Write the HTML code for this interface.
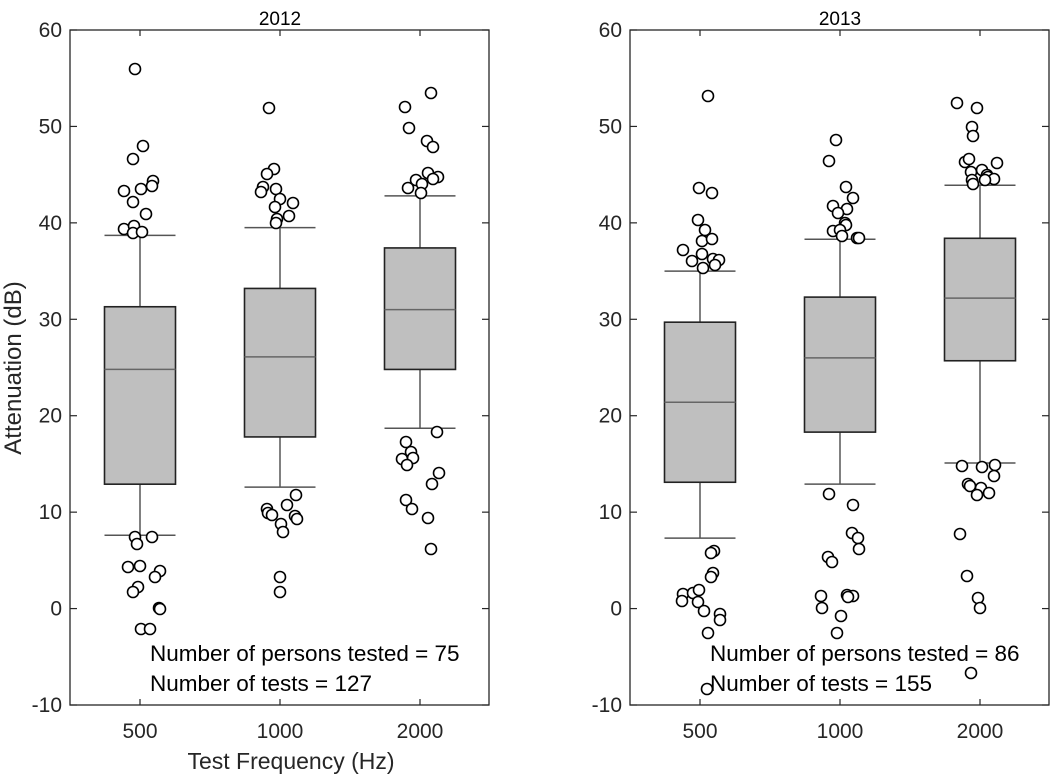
<!DOCTYPE html>
<html><head><meta charset="utf-8"><style>
html,body{margin:0;padding:0;background:#fff;}
svg{display:block;font-family:"Liberation Sans",Arial,sans-serif;}
</style></head><body>
<svg id="s" width="1050" height="775" viewBox="0 0 1050 775" xmlns="http://www.w3.org/2000/svg">
<rect width="1050" height="775" fill="#fff"/>
<g id="g"></g>
<text x="280" y="25" text-anchor="middle" font-size="19" fill="#000">2012</text>
<text x="840" y="25" text-anchor="middle" font-size="19" fill="#000">2013</text>
<text transform="translate(21,368) rotate(-90)" text-anchor="middle" font-size="24" fill="#262626">Attenuation (dB)</text>
<text x="291" y="769" text-anchor="middle" font-size="23" fill="#262626">Test Frequency (Hz)</text>
<text x="150" y="661" font-size="22.5" fill="#000">Number of persons tested = 75</text>
<text x="150" y="691" font-size="22.5" fill="#000">Number of tests = 127</text>
<text x="710" y="661" font-size="22.5" fill="#000">Number of persons tested = 86</text>
<text x="710" y="691" font-size="22.5" fill="#000">Number of tests = 155</text>
</svg>
<script>
var NS="http://www.w3.org/2000/svg",g=document.getElementById("g");
function el(t,a,txt){var e=document.createElementNS(NS,t);for(var k in a)e.setAttribute(k,a[k]);if(txt!=null)e.textContent=txt;g.appendChild(e);return e;}
function Y(v){return 30+(60-v)*9.643;}
var panels=[{x0:70,boxes:[[38.7,31.3,24.8,12.9,7.6],[39.5,33.2,26.1,17.8,12.6],[42.8,37.4,31.0,24.8,18.7]]},
{x0:630,boxes:[[35.0,29.7,21.4,13.1,7.3],[38.3,32.3,26.0,18.3,12.9],[43.9,38.4,32.2,25.7,15.1]]}];
var outs=[
[135,69],[143,146],[133,159],[153,181],[152,186],[124,191],[141,189],[133,202],[146,214],[124,229],[134,226],[133,233],[142,232],
[269,108],[274,169],[267,174],[263,187],[261,192],[276,189],[280,199],[293,203],[275,207],[289,216],[277,219],[276,223],
[431,93],[405,107],[409,128],[427,141],[433,147],[428,173],[438,177],[433,179],[416,180],[422,184],[408,188],[421,193],
[135,537],[152,537],[137,544],[128,567],[140,566],[160,571],[155,577],[138,587],[133,592],[159,608],[141,629],[150,629],[160,609],
[296,495],[287,505],[267,509],[268,513],[272,515],[295,516],[297,519],[281,524],[283,532],[280,577],[280,592],
[437,432],[406,442],[411,452],[413,458],[402,459],[407,465],[439,473],[432,484],[406,500],[412,509],[428,518],[431,549],
[708,96],[699,188],[712,193],[698,220],[705,230],[702,241],[712,239],[683,250],[702,254],[692,261],[713,259],[719,260],[703,268],[715,265],
[836,140],[829,161],[846,187],[853,198],[833,206],[847,209],[838,213],[845,223],[846,225],[833,231],[840,230],[842,236],[857,238],[859,238],
[957,103],[977,108],[972,127],[973,136],[965,162],[969,159],[997,163],[971,172],[982,170],[987,175],[988,177],[994,179],[972,180],[973,184],[985,180],
[714,551],[711,553],[713,573],[711,577],[683,594],[682,601],[693,593],[699,590],[698,602],[704,611],[720,614],[720,620],[708,633],[707,689],
[829,494],[853,505],[852,533],[858,538],[859,549],[828,557],[832,562],[821,596],[822,608],[847,595],[853,596],[848,597],[841,616],[837,633],
[962,466],[982,467],[995,465],[994,476],[968,484],[970,486],[981,488],[989,493],[977,495],[960,534],[967,576],[978,598],[980,608],[971,673]
];
panels.forEach(function(p){
 var x0=p.x0,x1=x0+419,ax="#262626";
 p.boxes.forEach(function(b,i){
  var cx=x0+70+140*i,w=35.5;
  el("line",{x1:cx,y1:Y(b[0]),x2:cx,y2:Y(b[1]),stroke:"#555","stroke-width":1.5});
  el("line",{x1:cx,y1:Y(b[3]),x2:cx,y2:Y(b[4]),stroke:"#555","stroke-width":1.5});
  el("line",{x1:cx-w,y1:Y(b[0]),x2:cx+w,y2:Y(b[0]),stroke:"#555","stroke-width":1.5});
  el("line",{x1:cx-w,y1:Y(b[4]),x2:cx+w,y2:Y(b[4]),stroke:"#555","stroke-width":1.5});
  el("rect",{x:cx-w,y:Y(b[1]),width:2*w,height:Y(b[3])-Y(b[1]),fill:"#bfbfbf",stroke:"#222","stroke-width":1.6});
  el("line",{x1:cx-w,y1:Y(b[2]),x2:cx+w,y2:Y(b[2]),stroke:"#666","stroke-width":1.5});
  el("line",{x1:cx,y1:30,x2:cx,y2:36,stroke:ax,"stroke-width":1.2});
  el("line",{x1:cx,y1:705,x2:cx,y2:699,stroke:ax,"stroke-width":1.2});
  el("text",{x:cx,y:738,"text-anchor":"middle","font-size":21,fill:"#262626"},["500","1000","2000"][i]);
 });
 for(var v=-10;v<=60;v+=10){
  var y=Y(v);
  el("line",{x1:x0,y1:y,x2:x0+7,y2:y,stroke:ax,"stroke-width":1.2});
  el("line",{x1:x1,y1:y,x2:x1-7,y2:y,stroke:ax,"stroke-width":1.2});
  el("text",{x:x0-8,y:y+7,"text-anchor":"end","font-size":21,fill:"#262626"},String(v));
 }
 el("rect",{x:x0,y:30,width:419,height:675,fill:"none",stroke:ax,"stroke-width":1.3});
});
outs.forEach(function(o){el("circle",{cx:o[0],cy:o[1],r:5.5,fill:"#fff",stroke:"#000","stroke-width":1.6});});
</script>
</body></html>
